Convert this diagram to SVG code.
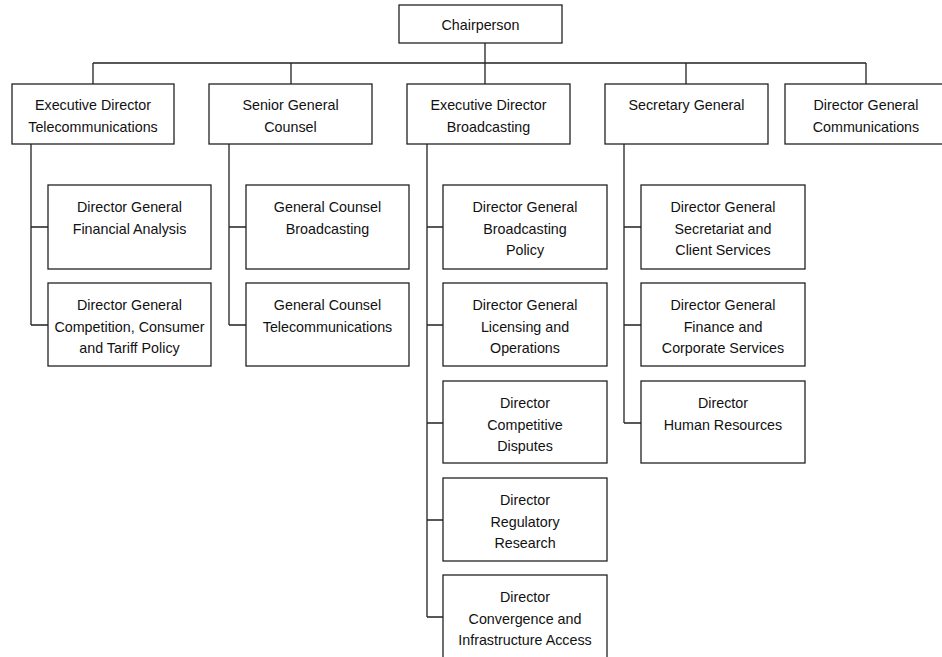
<svg xmlns="http://www.w3.org/2000/svg" width="942" height="657" viewBox="0 0 942 657">
<style>
rect{fill:#fff;stroke:#222;stroke-width:1.3}
text{font-family:"Liberation Sans",Arial,sans-serif;font-size:14.3px;fill:#111;text-anchor:middle}
#connectors path{fill:none;stroke:#222;stroke-width:1.3}
</style>
<rect x="0" y="0" width="942" height="657" style="fill:#fff;stroke:none"/>
<g id="connectors">
<path d="M485 43V63M93 63H866M93 63V84M291 63V84M485 63V84M686 63V84M866 63V84"/>
<path d="M31 144V325M31 227H48M31 325H48"/>
<path d="M229 144V325M229 227H246M229 325H246"/>
<path d="M427 144V617M427 227H443M427 325H443M427 423H443M427 520H443M427 617H443"/>
<path d="M624 144V423M624 227H641M624 325H641M624 423H641"/>
</g>
<g id="chair"><rect x="399" y="5" width="163" height="38"/><text x="480.5" y="30">Chairperson</text></g>
<g id="ed-telecom"><rect x="12" y="84" width="162" height="60"/><text x="93" y="110">Executive Director</text><text x="93" y="131.5">Telecommunications</text></g>
<g id="senior-counsel"><rect x="209" y="84" width="163" height="60"/><text x="290.5" y="110">Senior General</text><text x="290.5" y="131.5">Counsel</text></g>
<g id="ed-broadcast"><rect x="407" y="84" width="163" height="60"/><text x="488.5" y="110">Executive Director</text><text x="488.5" y="131.5">Broadcasting</text></g>
<g id="sec-gen"><rect x="605" y="84" width="163" height="60"/><text x="686.5" y="110">Secretary General</text></g>
<g id="dg-comm"><rect x="785" y="84" width="162" height="60"/><text x="866" y="110">Director General</text><text x="866" y="131.5">Communications</text></g>

<g id="dg-fin"><rect x="48" y="185" width="163" height="84"/><text x="129.5" y="212">Director General</text><text x="129.5" y="233.5">Financial Analysis</text></g>
<g id="dg-comp"><rect x="48" y="283" width="163" height="83"/><text x="129.5" y="310">Director General</text><text x="129.5" y="331.5">Competition, Consumer</text><text x="129.5" y="353">and Tariff Policy</text></g>

<g id="gc-broad"><rect x="246" y="185" width="163" height="84"/><text x="327.5" y="212">General Counsel</text><text x="327.5" y="233.5">Broadcasting</text></g>
<g id="gc-tele"><rect x="246" y="283" width="163" height="83"/><text x="327.5" y="310">General Counsel</text><text x="327.5" y="331.5">Telecommunications</text></g>

<g id="dg-bpol"><rect x="443" y="185" width="164" height="84"/><text x="525" y="212">Director General</text><text x="525" y="233.5">Broadcasting</text><text x="525" y="255">Policy</text></g>
<g id="dg-lic"><rect x="443" y="283" width="164" height="83"/><text x="525" y="310">Director General</text><text x="525" y="331.5">Licensing and</text><text x="525" y="353">Operations</text></g>
<g id="d-disp"><rect x="443" y="381" width="164" height="82"/><text x="525" y="408">Director</text><text x="525" y="429.5">Competitive</text><text x="525" y="451">Disputes</text></g>
<g id="d-reg"><rect x="443" y="478" width="164" height="83"/><text x="525" y="505">Director</text><text x="525" y="526.5">Regulatory</text><text x="525" y="548">Research</text></g>
<g id="d-conv"><rect x="443" y="575" width="164" height="90"/><text x="525" y="602">Director</text><text x="525" y="623.5">Convergence and</text><text x="525" y="645">Infrastructure Access</text></g>

<g id="dg-sec"><rect x="641" y="185" width="164" height="84"/><text x="723" y="212">Director General</text><text x="723" y="233.5">Secretariat and</text><text x="723" y="255">Client Services</text></g>
<g id="dg-finance"><rect x="641" y="283" width="164" height="83"/><text x="723" y="310">Director General</text><text x="723" y="331.5">Finance and</text><text x="723" y="353">Corporate Services</text></g>
<g id="d-hr"><rect x="641" y="381" width="164" height="82"/><text x="723" y="408">Director</text><text x="723" y="429.5">Human Resources</text></g>
</svg>
